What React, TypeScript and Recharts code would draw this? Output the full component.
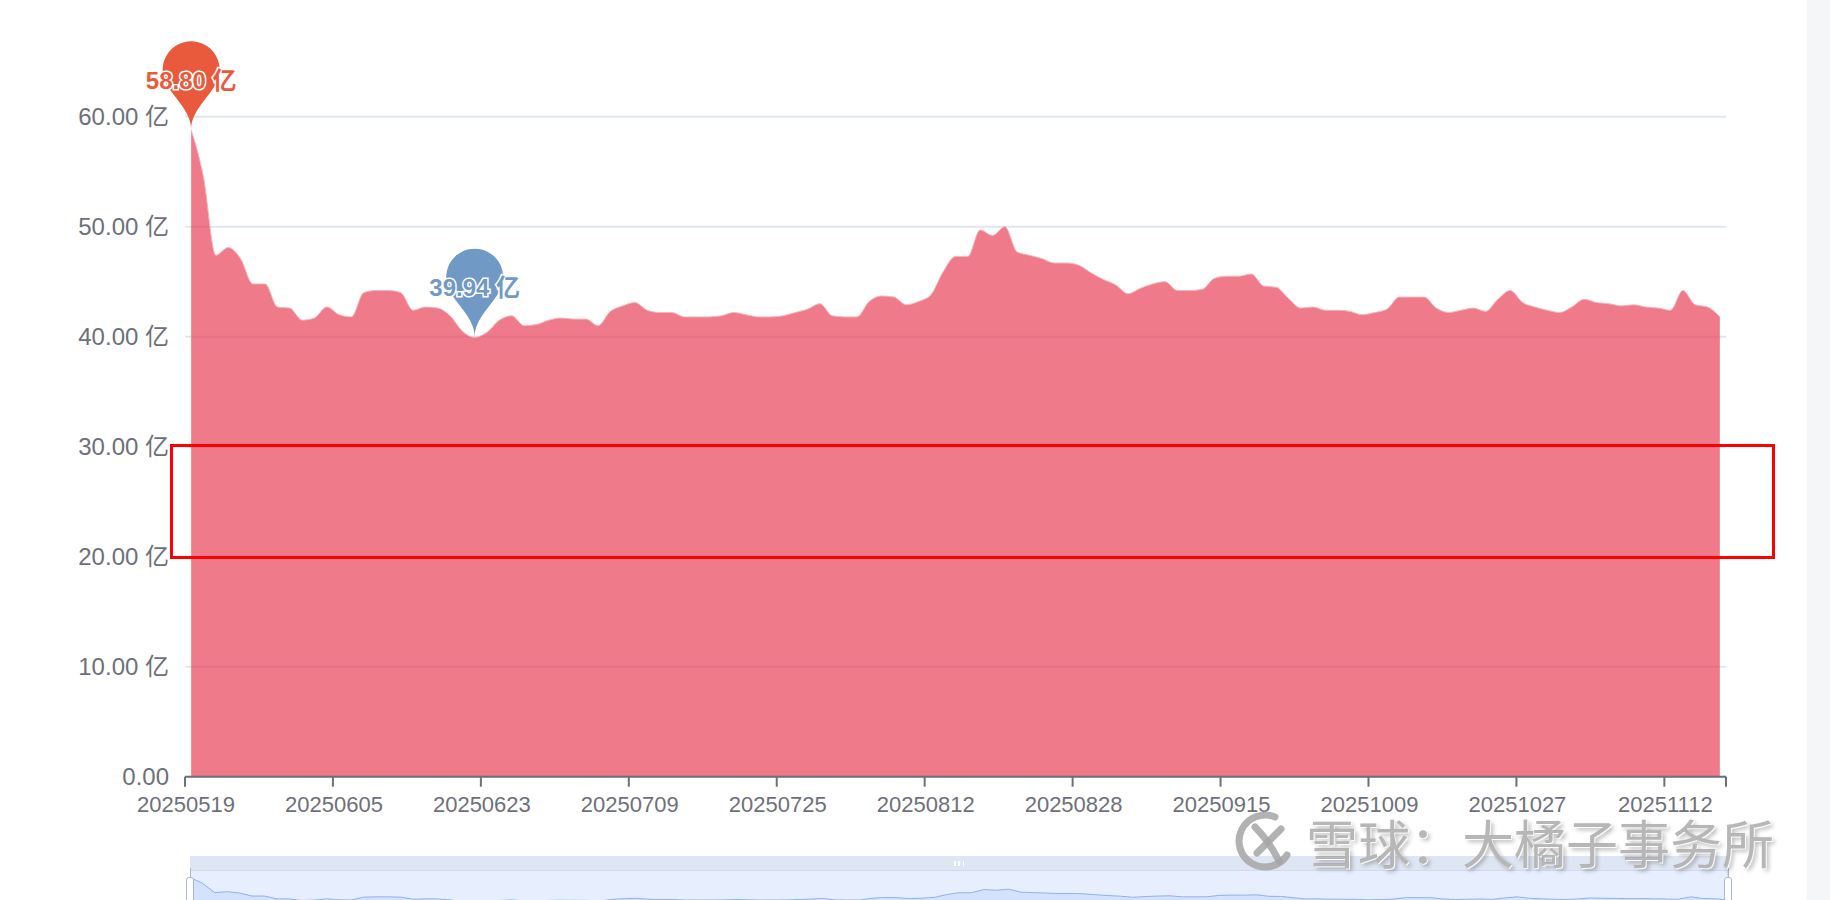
import React from "react";
import {
  AreaChart,
  Area,
  XAxis,
  YAxis,
  CartesianGrid,
  ReferenceDot,
} from "recharts";

// trading days shown on the category axis
const dates = [
  "20250519", "20250520", "20250521", "20250522", "20250523", "20250526", "20250527", "20250528", "20250529", "20250530",
  "20250603", "20250604", "20250605", "20250606", "20250609", "20250610", "20250611", "20250612", "20250613", "20250616",
  "20250617", "20250618", "20250619", "20250620", "20250623", "20250624", "20250625", "20250626", "20250627", "20250630",
  "20250701", "20250702", "20250703", "20250704", "20250707", "20250708", "20250709", "20250710", "20250711", "20250714",
  "20250715", "20250716", "20250717", "20250718", "20250721", "20250722", "20250723", "20250724", "20250725", "20250728",
  "20250729", "20250730", "20250731", "20250801", "20250804", "20250805", "20250806", "20250807", "20250808", "20250811",
  "20250812", "20250813", "20250814", "20250815", "20250818", "20250819", "20250820", "20250821", "20250822", "20250825",
  "20250826", "20250827", "20250828", "20250829", "20250901", "20250902", "20250903", "20250904", "20250905", "20250908",
  "20250909", "20250910", "20250911", "20250912", "20250915", "20250916", "20250917", "20250918", "20250919", "20250922",
  "20250923", "20250924", "20250925", "20250926", "20250929", "20250930", "20251009", "20251010", "20251013", "20251014",
  "20251015", "20251016", "20251017", "20251020", "20251021", "20251022", "20251023", "20251024", "20251027", "20251028",
  "20251029", "20251030", "20251031", "20251103", "20251104", "20251105", "20251106", "20251107", "20251110", "20251111",
  "20251112", "20251113", "20251114", "20251117", "20251118",
];

// values in 亿
const values = [
  58.8, 54.5, 47.4, 48.1, 47.1, 44.8, 44.8, 42.7, 42.6, 41.5,
  41.7, 42.7, 42.0, 41.8, 44.0, 44.2, 44.2, 44.0, 42.4, 42.7,
  42.6, 41.9, 40.5, 39.94, 40.4, 41.5, 41.9, 41.0, 41.1, 41.5,
  41.7, 41.6, 41.6, 41.0, 42.3, 42.8, 43.1, 42.4, 42.2, 42.2,
  41.8, 41.8, 41.8, 41.9, 42.2, 42.0, 41.8, 41.8, 41.9, 42.2,
  42.5, 43.0, 41.9, 41.8, 41.8, 43.2, 43.7, 43.6, 42.9, 43.2,
  43.8, 45.9, 47.3, 47.3, 49.7, 49.2, 50.0, 47.7, 47.4, 47.1,
  46.7, 46.7, 46.5, 45.8, 45.2, 44.7, 43.9, 44.4, 44.8, 45.0,
  44.2, 44.2, 44.3, 45.3, 45.5, 45.5, 45.7, 44.6, 44.5, 43.5,
  42.6, 42.7, 42.4, 42.4, 42.3, 42.0, 42.2, 42.5, 43.6, 43.6,
  43.6, 42.6, 42.2, 42.4, 42.6, 42.3, 43.4, 44.2, 43.1, 42.7,
  42.4, 42.2, 42.7, 43.4, 43.1, 43.0, 42.8, 42.9, 42.7, 42.6,
  42.4, 44.2, 42.9, 42.7, 41.8,
];

const yTicks = [0, 10, 20, 30, 40, 50, 60];
const labelEvery = 12;

const font = '"Liberation Sans", "Noto Sans CJK SC", sans-serif';
const axisGray = "#6e7079";

const W = 1830;
const H = 900;
const plotLeft = 185;
const plotRight = 1726;
const plotTop = 116.7;
const plotBottom = 776.7;

const rows = dates.map((d, i) => ({ x: i + 0.5, i, date: d, value: values[i] }));

const xTicks: number[] = [];
for (let k = 0; k < dates.length; k += labelEvery) xTicks.push(k);
xTicks.push(dates.length);

const maxIdx = values.indexOf(Math.max(...values));
const minIdx = values.indexOf(Math.min(...values));

// dataZoom shadow extent (echarts pads 30% of range)
const vMin = Math.min(...values);
const vMax = Math.max(...values);
const pad = (vMax - vMin) * 0.3;

const fmtY = (v: number) => (v === 0 ? "0.00" : `${v.toFixed(2)} 亿`);

const XTick = (props: any) => {
  const { x, y, payload } = props;
  const label = dates[payload.value];
  if (!label) return <g />;
  return (
    <text x={x + 1} y={y} dy="0.71em" textAnchor="middle" fill={axisGray} fontSize={22} fontFamily={font}>
      {label}
    </text>
  );
};

// echarts "pin" symbol
const pinPath = (x: number, y: number, w: number, h: number) => {
  const r = w / 2;
  const dy = (r * r) / (h - r);
  const cy = y - h + r + dy;
  const a = Math.asin(dy / r);
  const dx = Math.cos(a) * r;
  const tx = Math.sin(a);
  const ty = Math.cos(a);
  const c1 = r * 0.6;
  const c2 = r * 0.7;
  return (
    `M${x - dx},${cy + dy} A${r},${r} 0 1 1 ${x + dx},${cy + dy} ` +
    `C${x + dx - tx * c1},${cy + dy + ty * c1} ${x},${y - c2} ${x},${y} ` +
    `C${x},${y - c2} ${x - dx + tx * c1},${cy + dy + ty * c1} ${x - dx},${cy + dy} Z`
  );
};

const makePin = (color: string, text: string) => (p: any) => {
  const { cx, cy } = p;
  return (
    <g>
      <path d={pinPath(cx, cy, 57, 100)} fill={color} />
      <text
        x={cx}
        y={cy - 50}
        dy="0.36em"
        textAnchor="middle"
        fill={color}
        stroke="#fff"
        strokeWidth={3}
        paintOrder="stroke"
        fontSize={24}
        fontWeight="bold"
        fontFamily={font}
      >
        {text}
      </text>
    </g>
  );
};

const abs = (s: React.CSSProperties): React.CSSProperties => ({ position: "absolute", ...s });

const XueqiuLogo = () => (
  <svg width={62} height={64} viewBox="0 0 62 64" style={abs({ left: 1235, top: 809 })}>
    <g fill="none" stroke="rgba(165,165,165,0.85)" strokeWidth={7} strokeLinecap="round">
      <path d="M40 8 A26 26 0 1 0 52 46" />
      <path d="M20 18 C30 28 36 36 44 52" />
      <path d="M46 20 C38 28 30 36 22 44" />
    </g>
  </svg>
);

export default function App() {
  const sliderLeft = 190;
  const sliderRight = 1728;
  const sliderW = sliderRight - sliderLeft;
  return (
    <div style={{ position: "fixed", left: 0, top: 0, width: W, height: H, overflow: "hidden", background: "#fff" }}>
      <AreaChart
        width={W}
        height={H}
        data={rows}
        margin={{ top: plotTop, right: W - plotRight, bottom: H - plotBottom - 40, left: 0 }}
      >
        <CartesianGrid vertical={false} stroke="#e0e6f1" strokeWidth={2} />
        <XAxis
          dataKey="x"
          type="number"
          domain={[0, dates.length]}
          ticks={xTicks}
          interval={0}
          height={40}
          tickSize={10}
          tickMargin={10}
          tick={<XTick />}
          axisLine={{ stroke: axisGray, strokeWidth: 2 }}
          tickLine={{ stroke: axisGray, strokeWidth: 2 }}
        />
        <YAxis
          type="number"
          domain={[0, 60]}
          ticks={yTicks}
          interval={0}
          width={plotLeft}
          axisLine={false}
          tickLine={false}
          tickSize={0}
          tickMargin={16}
          tickFormatter={fmtY}
          tick={{ fill: axisGray, fontSize: 24, fontFamily: font }}
        />
        <Area
          type="monotone"
          dataKey="value"
          stroke="#f6b3bd"
          strokeWidth={1}
          fill="#e74158"
          fillOpacity={0.7}
          isAnimationActive={false}
          dot={false}
          activeDot={false}
        />
        <ReferenceDot
          x={rows[maxIdx].x}
          y={values[maxIdx]}
          ifOverflow="visible"
          shape={makePin("#e95a3d", `${values[maxIdx].toFixed(2)} 亿`)}
        />
        <ReferenceDot
          x={rows[minIdx].x}
          y={values[minIdx]}
          ifOverflow="visible"
          shape={makePin("#7199c6", `${values[minIdx].toFixed(2)} 亿`)}
        />
      </AreaChart>

      {/* data zoom slider */}
      <div style={abs({ left: sliderLeft, top: 856, width: sliderW, height: 14, background: "rgba(210,219,238,0.7)" })}>
        <div style={abs({ left: sliderW / 2 - 5, top: 5, width: 10, height: 5, display: "flex", justifyContent: "space-between" })}>
          <span style={{ width: 1.5, background: "#fff" }} />
          <span style={{ width: 1.5, background: "#fff" }} />
          <span style={{ width: 1.5, background: "#fff" }} />
        </div>
      </div>
      <div style={abs({ left: sliderLeft, top: 870, width: sliderW, height: 60, boxSizing: "border-box", border: "1px solid #d2dbee", background: "#e7efff" })} />
      <div style={abs({ left: sliderLeft, top: 870, width: sliderW, height: 40 })}>
        <AreaChart width={sliderW} height={40} data={rows} margin={{ top: 0, right: 0, bottom: 0, left: 0 }}>
          <XAxis dataKey="i" type="number" domain={[0, dates.length - 1]} hide />
          <YAxis type="number" domain={[vMin - pad, vMax + pad]} allowDataOverflow hide />
          <Area
            type="linear"
            dataKey="value"
            stroke="#8fb0f7"
            strokeWidth={1}
            fill="#8fb0f7"
            fillOpacity={0.2}
            isAnimationActive={false}
            dot={false}
            activeDot={false}
          />
        </AreaChart>
      </div>
      {[sliderLeft, sliderRight].map((hx) => (
        <React.Fragment key={hx}>
          <div style={abs({ left: hx - 0.5, top: 868, width: 1, height: 10, background: "#acb8d1" })} />
          <div
            style={abs({
              left: hx - 4,
              top: 877,
              width: 8,
              height: 40,
              boxSizing: "border-box",
              border: "1px solid #acb8d1",
              borderRadius: 3,
              background: "#fff",
            })}
          />
        </React.Fragment>
      ))}

      {/* annotation box */}
      <div style={abs({ left: 170, top: 444, width: 1605, height: 115, boxSizing: "border-box", border: "3px solid #ff0000" })} />

      {/* watermark */}
      <XueqiuLogo />
      <div
        style={abs({
          left: 1306,
          top: 816,
          fontSize: 52,
          lineHeight: 1,
          fontFamily: '"Noto Sans CJK SC", sans-serif',
          color: "rgba(170,170,170,0.85)",
          textShadow: "1px 1px 0 rgba(255,255,255,0.9), 3px 3px 4px rgba(0,0,0,0.28)",
          whiteSpace: "nowrap",
        })}
      >
        雪球：大橘子事务所
      </div>

      {/* right page strip */}
      <div style={abs({ left: 1807, top: 0, width: 23, height: H, background: "#f5f6f8" })} />
    </div>
  );
}
